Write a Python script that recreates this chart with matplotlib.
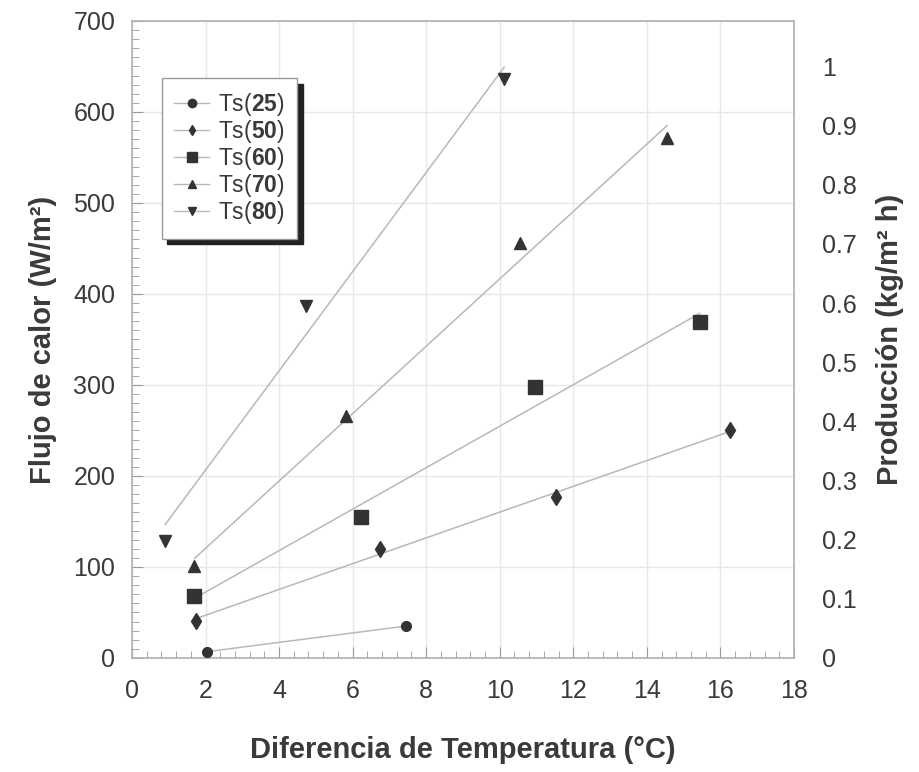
import numpy as np
import matplotlib
matplotlib.use("Agg")
import matplotlib.pyplot as plt
from matplotlib.lines import Line2D
from matplotlib.ticker import MultipleLocator

plt.rcParams['font.family'] = ['Liberation Sans', 'DejaVu Sans']
plt.rcParams['mathtext.fontset'] = 'custom'
plt.rcParams['mathtext.rm'] = 'Liberation Sans'
plt.rcParams['mathtext.bf'] = 'Liberation Sans:bold'

# data: dT (C) vs heat flux (W/m2)
x25 = [2.05, 7.44]
y25 = [7, 35]
x50 = [1.74, 6.74, 11.52, 16.25]
y50 = [41, 120, 177, 250]
x60 = [1.70, 6.24, 10.97, 15.44]
y60 = [68, 155, 298, 369]
x70 = [1.70, 5.83, 10.56, 14.55]
y70 = [101, 266, 456, 571]
x80 = [0.90, 4.73, 10.12]
y80 = [128, 387, 636]

series = [
    ('25', x25, y25, 'o', 7),
    ('50', x50, y50, 'd', 8),
    ('60', x60, y60, 's', 10),
    ('70', x70, y70, '^', 8),
    ('80', x80, y80, 'v', 8),
]
legend_ms = {'o': 6, 'd': 5, 's': 7, '^': 5.5, 'v': 5.5}

dark = '#333333'
linec = '#b8b8b8'
txt = '#3a3a3a'

fig = plt.figure(figsize=(9.19, 7.72), dpi=100)
ax = fig.add_axes([0.1436, 0.1477, 0.7203, 0.8251])

handles = []
for name, xs, ys, m, ms in series:
    xs = np.array(xs)
    ys = np.array(ys)
    k, b = np.polyfit(xs, ys, 1)
    xx = np.array([xs.min(), xs.max()])
    ax.plot(xx, k * xx + b, color=linec, lw=1.1, zorder=2)
    ax.plot(xs, ys, linestyle='none', marker=m, ms=ms, color=dark, zorder=3)
    handles.append(Line2D([], [], color=linec, lw=1, marker=m, ms=legend_ms[m],
                          mfc=dark, mec=dark, label=r'Ts($\mathbf{' + name + '}$)'))

ax.set_xlim(0, 18)
ax.set_ylim(0, 700)
ax.xaxis.set_major_locator(MultipleLocator(2))
ax.xaxis.set_minor_locator(MultipleLocator(0.4))
ax.yaxis.set_major_locator(MultipleLocator(100))
ax.yaxis.set_minor_locator(MultipleLocator(10))
ax.grid(True, which='major', color='#e8e8e8', lw=1)
ax.set_axisbelow(True)
ax.tick_params(which='both', direction='in', color='#9a9a9a', labelsize=18, labelcolor=txt)
ax.tick_params(which='major', length=8)
ax.tick_params(which='minor', length=5)
ax.tick_params(axis='x', pad=15)
ax.tick_params(axis='y', pad=12)
for s in ax.spines.values():
    s.set_color('#b0b0b0')
    s.set_linewidth(1.2)

ax.set_xlabel('Diferencia de Temperatura (°C)', fontsize=21, fontweight='bold', color=txt, labelpad=24)
ax.set_ylabel('Flujo de calor (W/m²)', fontsize=21, fontweight='bold', color=txt, labelpad=12)

ax2 = ax.twinx()
ax2.set_ylim(0, 700 / 650)
ax2.set_yticks(np.arange(0, 1.01, 0.1))
ax2.set_yticklabels(['0'] + ['%.1f' % v for v in np.arange(0.1, 0.95, 0.1)] + ['1'])
ax2.tick_params(axis='y', length=0, labelsize=18, labelcolor=txt, pad=20)
for s in ax2.spines.values():
    s.set_visible(False)
ax2.set_ylabel('Producción (kg/m² h)', fontsize=21, fontweight='bold', color=txt, labelpad=14)

leg = ax.legend(handles=handles, loc='upper left', bbox_to_anchor=(0.045, 0.91),
                borderaxespad=0, fontsize=16.5, frameon=True, fancybox=False,
                handlelength=1.5, handletextpad=0.4, labelspacing=0.0,
                borderpad=0.55,
                shadow={'color': '#222222', 'alpha': 1.0, 'ox': 4, 'oy': -4})
leg.get_frame().set_edgecolor('#9a9a9a')
leg.get_frame().set_linewidth(1.0)
for t in leg.get_texts():
    t.set_color(txt)

fig.savefig('out.png', dpi=100)
